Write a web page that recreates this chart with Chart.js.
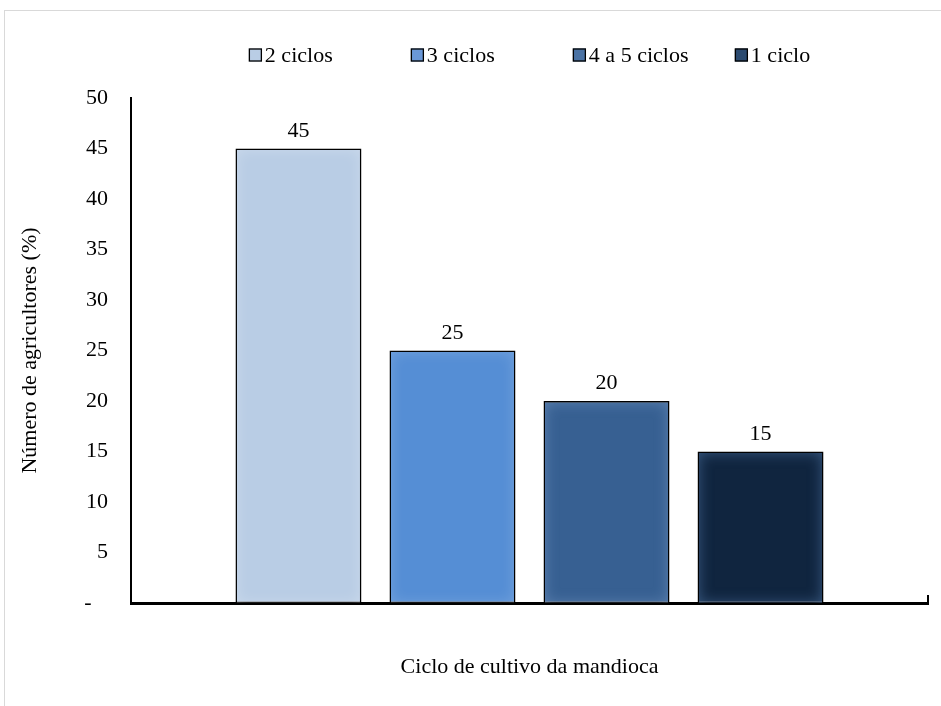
<!DOCTYPE html>
<html>
<head>
<meta charset="utf-8">
<script src="https://cdn.jsdelivr.net/npm/chart.js@4.4.1/dist/chart.umd.min.js"></script>
<style>
  html, body { margin: 0; padding: 0; background: #fff; overflow: hidden; }
  #frame {
    position: absolute; left: 4px; top: 10px; width: 960px; height: 720px;
    border: 1px solid #d9d9d9; box-sizing: border-box;
  }
  #chart { position: absolute; left: 0; top: 0; }
</style>
</head>
<body>
<div id="frame"></div>
<canvas id="chart" width="941" height="706"></canvas>
<script>
// ── Data ──────────────────────────────────────────────────────
const categories  = [''];
const seriesNames = ['2 ciclos', '3 ciclos', '4 a 5 ciclos', '1 ciclo'];
const seriesVals  = [45, 25, 20, 15];
const yTicks      = [0, 5, 10, 15, 20, 25, 30, 35, 40, 45, 50];

const FILLS   = ['#b9cde5', '#558ed5', '#376092', '#10253f'];
const SWATCH  = ['#b9cde5', '#6a98d8', '#4a72a4', '#2b4a70'];
const GLOWS   = ['rgba(255,255,255,0.25)', 'rgba(255,255,255,0.18)', 'rgba(160,190,230,0.35)', 'rgba(90,130,180,0.55)'];
const FONT    = "'Liberation Serif', 'Times New Roman', serif";
const FSIZE   = 22;

// ── Legend: equal-width entries centred over the plot ─────────
const columnLegend = {
  id: 'columnLegend',
  afterDraw(chart) {
    const { ctx, chartArea } = chart;
    const col = 162, box = 13, gap = 3, cy = 55;
    ctx.save();
    ctx.font = `${FSIZE}px ${FONT}`;
    const lastW = box + gap + ctx.measureText(seriesNames[seriesNames.length - 1]).width;
    const total = col * (seriesNames.length - 1) + lastW;
    let x = (chartArea.left + chartArea.right) / 2 - total / 2;
    ctx.textBaseline = 'middle';
    ctx.textAlign = 'left';
    seriesNames.forEach((name, i) => {
      ctx.fillStyle = SWATCH[i];
      ctx.fillRect(x, cy - box / 2, box, box);
      ctx.strokeStyle = '#000';
      ctx.lineWidth = 1.3;
      ctx.strokeRect(x + 0.5, cy - box / 2 + 0.5, box - 1, box - 1);
      ctx.fillStyle = '#000';
      ctx.fillText(name, x + box + gap, cy + 1);
      x += col;
    });
    ctx.restore();
  },
};

// ── Inner glow on each bar ────────────────────────────────────
const innerGlow = {
  id: 'innerGlow',
  afterDatasetsDraw(chart) {
    const { ctx } = chart;
    chart.data.datasets.forEach((ds, i) => {
      chart.getDatasetMeta(i).data.forEach((bar) => {
        const { x, y, base, width } = bar.getProps(['x', 'y', 'base', 'width'], true);
        const l = x - width / 2 + 1.5, r = x + width / 2 - 1.5;
        const t = y + 1.5, b = base;
        ctx.save();
        ctx.beginPath();
        ctx.rect(l, t, r - l, b - t);
        ctx.clip();
        ctx.beginPath();
        ctx.rect(l - 200, t - 200, r - l + 400, b - t + 400);
        ctx.rect(l, t, r - l, b - t);
        ctx.shadowColor = GLOWS[i];
        ctx.shadowBlur = 14;
        ctx.fillStyle = '#000';
        ctx.fill('evenodd');
        ctx.restore();
      });
    });
  },
};

// ── Value labels above bars ───────────────────────────────────
const valueLabels = {
  id: 'valueLabels',
  afterDatasetsDraw(chart) {
    const { ctx } = chart;
    ctx.save();
    ctx.font = `${FSIZE}px ${FONT}`;
    ctx.fillStyle = '#000';
    ctx.textAlign = 'center';
    ctx.textBaseline = 'alphabetic';
    chart.data.datasets.forEach((ds, i) => {
      chart.getDatasetMeta(i).data.forEach((bar, j) => {
        ctx.fillText(String(ds.data[j]), bar.x, bar.y - 12);
      });
    });
    ctx.restore();
  },
};

new Chart(document.getElementById('chart'), {
  type: 'bar',
  data: {
    labels: categories,
    datasets: seriesNames.map((name, i) => ({
      label: name,
      data: [seriesVals[i]],
      backgroundColor: FILLS[i],
      borderColor: '#000',
      borderWidth: 1.5,
      borderSkipped: false,
      categoryPercentage: 0.773,
      barPercentage: 0.818,
    })),
  },
  options: {
    responsive: false,
    devicePixelRatio: 1,
    animation: false,
    layout: { padding: { left: 8, right: 13, top: 98, bottom: 0 } },
    plugins: {
      legend: { display: false },
      tooltip: { enabled: false },
    },
    scales: {
      x: {
        grid: { display: true, drawOnChartArea: false, drawTicks: true, tickLength: -8, color: '#000', lineWidth: 2 },
        border: { color: '#000', width: 3 },
        ticks: { display: false },
        title: {
          display: true,
          text: 'Ciclo de cultivo da mandioca',
          color: '#000',
          font: { family: FONT, size: FSIZE },
          padding: { top: 0, bottom: 26 },
        },
        afterFit(scale) { scale.height = 103; },
      },
      y: {
        min: 0,
        max: 50,
        grid: { display: false, drawTicks: false },
        border: { color: '#000', width: 2 },
        afterBuildTicks(scale) { scale.ticks = yTicks.map((v) => ({ value: v })); },
        ticks: {
          color: '#000',
          padding: 23,
          font: { family: FONT, size: FSIZE },
          callback: (v) => (v === 0 ? '-   ' : v),
        },
        title: {
          display: true,
          text: 'Número de agricultores (%)',
          color: '#000',
          font: { family: FONT, size: FSIZE },
          padding: { top: 9, bottom: 0 },
        },
        afterFit(scale) { scale.width = 123; },
      },
    },
  },
  plugins: [columnLegend, innerGlow, valueLabels],
});
</script>
</body>
</html>
